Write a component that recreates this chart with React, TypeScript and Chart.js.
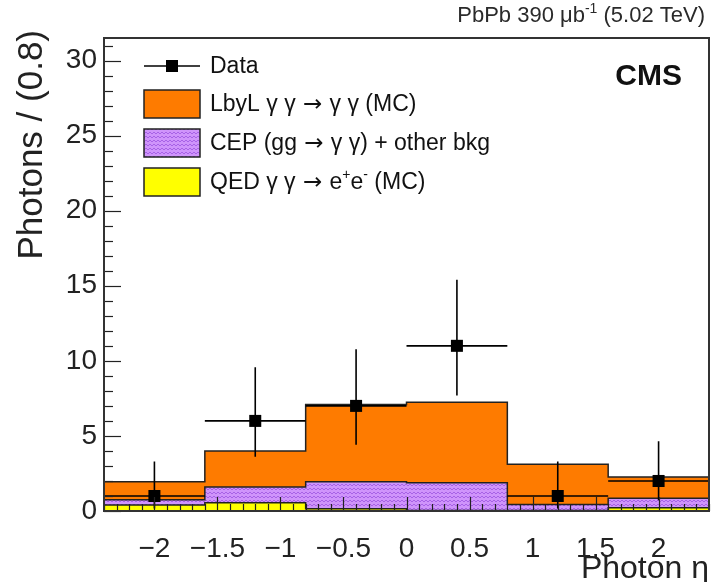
import React, { useEffect, useRef } from 'react';
import { Chart, registerables } from 'chart.js';
Chart.register(...registerables);

const binEdges = [-2.4, -1.6, -0.8, 0, 0.8, 1.6, 2.4];
const binCenters = [-2, -1.2, -0.4, 0.4, 1.2, 2];
const dataCounts = [1, 6, 7, 11, 1, 2];
const dataErrLow = [0.83, 2.38, 2.58, 3.3, 0.83, 1.29];
const dataErrHigh = [2.3, 3.58, 3.77, 4.4, 2.3, 2.64];
const qedValues = [0.4, 0.55, 0.15, 0.03, 0.03, 0.22];
const cepValues = [0.35, 1.05, 1.8, 1.85, 0.4, 0.63];
const lbylValues = [1.2, 2.4, 5.15, 5.37, 2.69, 1.42];
const xTickValues = [-2, -1.5, -1, -0.5, 0, 0.5, 1, 1.5, 2];
const yTickValues = [0, 5, 10, 15, 20, 25, 30];
const xTitle = 'Photon η';
const yTitle = 'Photons / (0.8)';

const FONT = '"Liberation Sans", Arial, Helvetica, sans-serif';
const ARROW_FONT = '"DejaVu Sans", sans-serif';
const ORANGE = '#fe7b00';
const YELLOW = '#ffff00';
const LINE = '#222222';

function histPoints(vals: number[]) {
  const pts: { x: number; y: number }[] = [{ x: binEdges[0], y: 0 }];
  vals.forEach((v, i) => {
    pts.push({ x: binEdges[i], y: v });
    pts.push({ x: binEdges[i + 1], y: v });
  });
  pts.push({ x: binEdges[binEdges.length - 1], y: 0 });
  return pts;
}

type Seg = { t: string; sup?: boolean; arrow?: boolean };
function drawRich(ctx: CanvasRenderingContext2D, segs: Seg[], x: number, y: number, size: number, align: 'left' | 'right', bold = false) {
  const supSize = Math.round(size * 0.62);
  const fontOf = (s: Seg) =>
    s.arrow ? `${size}px ${ARROW_FONT}` : `${bold ? 'bold ' : ''}${s.sup ? supSize : size}px ${FONT}`;
  let total = 0;
  segs.forEach((s) => {
    ctx.font = fontOf(s);
    total += ctx.measureText(s.t).width;
  });
  let cx = align === 'left' ? x : x - total;
  ctx.textAlign = 'left';
  ctx.textBaseline = 'middle';
  segs.forEach((s) => {
    ctx.font = fontOf(s);
    ctx.fillText(s.t, cx, s.sup ? y - size * 0.33 : y);
    cx += ctx.measureText(s.t).width;
  });
}

const ARROW: Seg = { t: ' \u2192 ', arrow: true };
const legendEntries: Seg[][] = [
  [{ t: 'Data' }],
  [{ t: 'LbyL γ γ' }, ARROW, { t: 'γ γ (MC)' }],
  [{ t: 'CEP (gg' }, ARROW, { t: 'γ γ) + other bkg' }],
  [{ t: 'QED γ γ' }, ARROW, { t: 'e' }, { t: '+', sup: true }, { t: 'e' }, { t: '-', sup: true }, { t: ' (MC)' }],
];

export default function App() {
  const ref = useRef<HTMLCanvasElement | null>(null);

  useEffect(() => {
    const canvas = ref.current!;
    const ctx0 = canvas.getContext('2d')!;

    const pc = document.createElement('canvas');
    pc.width = 8;
    pc.height = 8;
    const p = pc.getContext('2d')!;
    p.fillStyle = '#cf94fb';
    p.fillRect(0, 0, 8, 8);
    p.strokeStyle = '#a762e6';
    p.lineWidth = 1;
    p.beginPath();
    p.moveTo(0, 2); p.lineTo(2, 0); p.lineTo(4, 2); p.lineTo(6, 0); p.lineTo(8, 2);
    p.moveTo(0, 6); p.lineTo(2, 4); p.lineTo(4, 6); p.lineTo(6, 4); p.lineTo(8, 6);
    p.stroke();
    const purplePattern = ctx0.createPattern(pc, 'repeat')!;

    const cumQed = qedValues.slice();
    const cumCep = qedValues.map((v, i) => v + cepValues[i]);
    const cumAll = cumCep.map((v, i) => v + lbylValues[i]);

    const annot = {
      id: 'annot',
      beforeDatasetDraw(chart: any, args: any) {
        if (args.index !== 0) return;
        const { ctx, scales } = chart;
        const xs = scales.x, ys = scales.y;
        ctx.save();
        ctx.strokeStyle = '#000';
        ctx.lineWidth = 1.6;
        binCenters.forEach((c, i) => {
          const px = xs.getPixelForValue(c);
          const py = ys.getPixelForValue(dataCounts[i]);
          const half = (binEdges[i + 1] - binEdges[i]) / 2;
          ctx.beginPath();
          ctx.moveTo(xs.getPixelForValue(c - half), py);
          ctx.lineTo(xs.getPixelForValue(c + half), py);
          ctx.moveTo(px, ys.getPixelForValue(dataCounts[i] - dataErrLow[i]));
          ctx.lineTo(px, ys.getPixelForValue(dataCounts[i] + dataErrHigh[i]));
          ctx.stroke();
        });
        ctx.restore();
      },
      afterDraw(chart: any) {
        const { ctx, scales, chartArea } = chart;
        const xs = scales.x, ys = scales.y;
        ctx.save();
        ctx.strokeStyle = '#222';
        ctx.lineWidth = 1.2;
        for (let v = 0; v <= 31; v++) {
          const py = Math.round(ys.getPixelForValue(v)) + 0.5;
          const len = v % 5 === 0 ? 17 : 9;
          ctx.beginPath();
          ctx.moveTo(chartArea.left, py);
          ctx.lineTo(chartArea.left + len, py);
          ctx.stroke();
        }
        for (let k = -24; k <= 24; k++) {
          const v = k / 10;
          const px = Math.round(xs.getPixelForValue(v)) + 0.5;
          const len = k % 5 === 0 ? 14 : 7;
          ctx.beginPath();
          ctx.moveTo(px, chartArea.bottom);
          ctx.lineTo(px, chartArea.bottom - len);
          ctx.stroke();
        }
        ctx.strokeStyle = '#333';
        ctx.lineWidth = 2;
        ctx.strokeRect(chartArea.left, chartArea.top, chartArea.right - chartArea.left, chartArea.bottom - chartArea.top);

        ctx.save();
        ctx.translate(32, 30);
        ctx.rotate(-Math.PI / 2);
        ctx.fillStyle = '#222';
        ctx.font = `35px ${FONT}`;
        ctx.textAlign = 'right';
        ctx.textBaseline = 'middle';
        ctx.fillText(yTitle, 0, 0);
        ctx.restore();

        ctx.fillStyle = '#2a2a2a';
        drawRich(ctx, [{ t: 'PbPb 390 μb' }, { t: '-1', sup: true }, { t: ' (5.02 TeV)' }], 705, 16, 22, 'right');

        ctx.fillStyle = '#111';
        ctx.font = `bold 30px ${FONT}`;
        ctx.textAlign = 'right';
        ctx.textBaseline = 'middle';
        ctx.fillText('CMS', 682, 77);

        const lx = 144, lw = 56, tx = 210, fs = 23;
        ctx.strokeStyle = '#000';
        ctx.lineWidth = 1.6;
        ctx.beginPath();
        ctx.moveTo(lx, 66);
        ctx.lineTo(lx + lw, 66);
        ctx.stroke();
        ctx.fillStyle = '#000';
        ctx.fillRect(lx + lw / 2 - 6, 60, 12, 12);
        ctx.fillStyle = '#111';
        drawRich(ctx, legendEntries[0], tx, 67, fs, 'left');

        const boxes = [
          { y: 90, fill: ORANGE as any, segs: legendEntries[1] },
          { y: 129, fill: purplePattern as any, segs: legendEntries[2] },
          { y: 168, fill: YELLOW as any, segs: legendEntries[3] },
        ];
        boxes.forEach((b) => {
          ctx.fillStyle = b.fill;
          ctx.fillRect(lx, b.y, lw, 28);
          ctx.strokeStyle = LINE;
          ctx.lineWidth = 1.5;
          ctx.strokeRect(lx, b.y, lw, 28);
          ctx.fillStyle = '#111';
          drawRich(ctx, b.segs, tx, b.y + 15, fs, 'left');
        });
        ctx.restore();
      },
    };

    const histDs = (vals: number[], color: any) => ({
      type: 'line' as const,
      data: histPoints(vals),
      borderColor: LINE,
      borderWidth: 1.5,
      backgroundColor: color,
      fill: 'origin',
      pointRadius: 0,
      tension: 0,
    });

    const chart = new Chart(canvas, {
      type: 'line',
      data: {
        datasets: [
          {
            type: 'line',
            data: binCenters.map((c, i) => ({ x: c, y: dataCounts[i] })),
            showLine: false,
            pointStyle: 'rect',
            pointRadius: 8.5,
            pointBackgroundColor: '#000',
            pointBorderColor: '#000',
            pointBorderWidth: 0,
          } as any,
          histDs(cumQed, YELLOW),
          histDs(cumCep, purplePattern),
          histDs(cumAll, ORANGE),
        ],
      },
      options: {
        responsive: false,
        animation: false,
        devicePixelRatio: 1,
        layout: { autoPadding: false, padding: { top: 38, right: 6, left: 0, bottom: 0 } },
        plugins: { legend: { display: false }, tooltip: { enabled: false } },
        scales: {
          x: {
            type: 'linear',
            min: -2.4,
            max: 2.4,
            afterBuildTicks: (s: any) => { s.ticks = xTickValues.map((v) => ({ value: v })); },
            afterFit: (s: any) => { s.height = 71; s.paddingRight = 0; },
            grid: { display: false, drawTicks: false },
            border: { display: false },
            ticks: {
              autoSkip: false,
              maxRotation: 0,
              padding: 21,
              color: '#222',
              font: { family: FONT, size: 28, lineHeight: 1.2 },
              callback: (v: any) => String(v).replace('-', '\u2212'),
            },
            title: {
              display: true,
              text: xTitle,
              align: 'end',
              color: '#222',
              font: { family: FONT, size: 32, lineHeight: 0.8 },
              padding: 0,
            },
          },
          y: {
            type: 'linear',
            min: 0,
            max: 31.5,
            afterBuildTicks: (s: any) => { s.ticks = yTickValues.map((v) => ({ value: v })); },
            afterFit: (s: any) => { s.width = 104; },
            grid: { display: false, drawTicks: false },
            border: { display: false },
            ticks: {
              padding: 7,
              color: '#222',
              font: { family: FONT, size: 28 },
            },
            title: { display: false },
          },
        },
      } as any,
      plugins: [annot],
    });

    return () => chart.destroy();
  }, []);

  return (
    <div style={{ position: 'fixed', left: 0, top: 0, width: 715, height: 582, background: '#fff' }}>
      <canvas ref={ref} width={715} height={582} style={{ width: 715, height: 582, display: 'block' }} />
    </div>
  );
}
